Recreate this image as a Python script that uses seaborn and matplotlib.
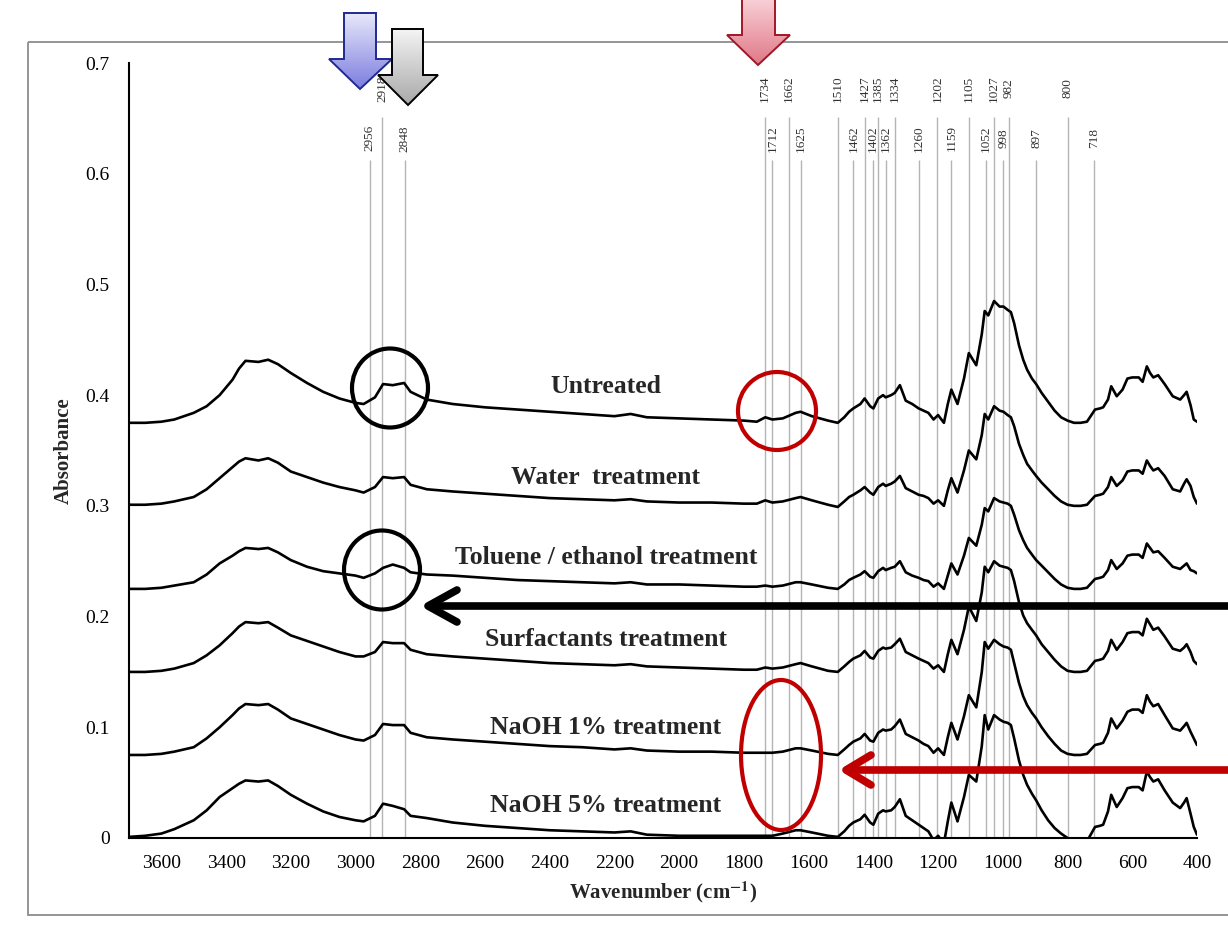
import numpy as np
import pandas as pd
import matplotlib
matplotlib.use('Agg')
import matplotlib.pyplot as plt
from matplotlib.patches import Ellipse, Polygon, Rectangle
from matplotlib.colors import LinearSegmentedColormap
import seaborn as sns

# wavenumber grid (cm-1)
wavenumber = [3700, 3650, 3600, 3560, 3500, 3460, 3420, 3380, 3360, 3340,
              3300, 3270, 3240, 3200, 3150, 3100, 3050, 3000, 2975, 2940,
              2915, 2885, 2850, 2830, 2780, 2700, 2600, 2500, 2400, 2300,
              2200, 2150, 2100, 2000, 1900, 1800, 1760, 1734, 1712, 1680,
              1640, 1625, 1590, 1540, 1510, 1490, 1475, 1462, 1440, 1427,
              1410, 1400, 1385, 1370, 1362, 1345, 1334, 1318, 1300, 1280,
              1260, 1245, 1230, 1214, 1200, 1182, 1170, 1159, 1140, 1120,
              1105, 1082, 1065, 1056, 1045, 1027, 1010, 998, 985, 975,
              965, 950, 937, 925, 910, 897, 880, 860, 840, 820,
              800, 780, 760, 740, 715, 700, 690, 675, 665, 648,
              630, 615, 600, 580, 568, 555, 545, 535, 520, 500,
              475, 452, 440, 432, 420, 410, 400]

untreated = [.375, .375, .376, .378, .384, .390, .400, .414, .424, .431,
             .430, .432, .428, .420, .411, .403, .397, .393, .392, .398,
             .410, .409, .411, .403, .396, .392, .389, .387, .385, .383,
             .381, .383, .380, .379, .378, .377, .376, .380, .378, .379,
             .384, .385, .381, .377, .375, .380, .385, .388, .392, .397,
             .390, .388, .397, .400, .398, .400, .402, .409, .395, .392,
             .388, .386, .384, .378, .382, .375, .392, .405, .392, .415,
             .438, .427, .455, .476, .472, .485, .480, .480, .477, .475,
             .465, .445, .432, .423, .415, .410, .402, .394, .386, .380,
             .377, .375, .375, .376, .387, .388, .389, .396, .408, .399,
             .405, .415, .416, .416, .412, .426, .420, .416, .418, .410,
             .399, .396, .400, .403, .391, .378, .376]

water = [.301, .301, .302, .304, .308, .315, .325, .335, .340, .343,
         .341, .343, .339, .331, .326, .321, .317, .314, .312, .317,
         .326, .325, .326, .319, .315, .313, .311, .309, .307, .306,
         .305, .306, .304, .303, .303, .302, .302, .305, .303, .304,
         .307, .308, .305, .301, .299, .304, .308, .310, .314, .317,
         .312, .310, .317, .320, .318, .320, .322, .327, .316, .313,
         .310, .309, .307, .302, .305, .300, .314, .325, .312, .332,
         .350, .342, .364, .383, .378, .390, .386, .385, .382, .380,
         .372, .356, .346, .338, .332, .327, .321, .315, .309, .304,
         .301, .300, .300, .301, .309, .310, .311, .317, .326, .318,
         .323, .331, .332, .332, .329, .341, .336, .332, .334, .327,
         .315, .313, .320, .324, .318, .308, .302]

toluene = [.225, .225, .226, .228, .231, .238, .248, .255, .259, .262,
           .261, .262, .258, .251, .245, .241, .239, .237, .235, .239,
           .244, .247, .244, .240, .238, .237, .235, .233, .232, .231,
           .230, .231, .229, .229, .228, .227, .227, .228, .227, .228,
           .231, .231, .229, .226, .225, .229, .233, .235, .238, .241,
           .236, .235, .241, .244, .242, .244, .245, .250, .240, .237,
           .235, .233, .232, .227, .230, .225, .237, .248, .238, .255,
           .271, .264, .283, .298, .295, .307, .304, .303, .302, .300,
           .292, .278, .269, .262, .256, .251, .246, .240, .234, .229,
           .226, .225, .225, .226, .234, .235, .236, .242, .251, .243,
           .248, .255, .256, .256, .253, .266, .262, .258, .259, .253,
           .245, .243, .246, .248, .242, .241, .239]

surfactants = [.150, .150, .151, .153, .158, .165, .174, .185, .191, .195,
               .194, .195, .190, .183, .178, .173, .168, .164, .164, .168,
               .177, .176, .176, .170, .166, .164, .162, .160, .158, .157,
               .156, .157, .155, .154, .153, .152, .152, .154, .153, .154,
               .157, .158, .155, .151, .150, .155, .159, .162, .165, .169,
               .163, .162, .169, .172, .171, .172, .175, .180, .168, .165,
               .162, .160, .158, .153, .156, .150, .166, .179, .166, .188,
               .209, .196, .222, .245, .240, .250, .246, .245, .244, .242,
               .232, .213, .201, .194, .188, .183, .175, .168, .161, .155,
               .151, .150, .150, .151, .160, .161, .162, .169, .179, .170,
               .177, .185, .186, .186, .183, .198, .193, .188, .190, .182,
               .171, .169, .172, .175, .168, .160, .157]

naoh1 = [.075, .075, .076, .078, .082, .090, .100, .111, .117, .121,
         .120, .121, .116, .108, .103, .098, .093, .089, .088, .093,
         .103, .102, .102, .095, .091, .089, .087, .085, .083, .082,
         .080, .081, .079, .078, .078, .077, .077, .077, .077, .078,
         .081, .081, .079, .076, .075, .080, .084, .087, .090, .094,
         .088, .087, .095, .098, .097, .098, .101, .107, .094, .091,
         .088, .085, .083, .077, .081, .075, .091, .104, .089, .110,
         .129, .118, .150, .177, .171, .179, .175, .173, .172, .170,
         .158, .140, .128, .120, .113, .108, .100, .092, .085, .079,
         .076, .075, .075, .076, .084, .085, .086, .095, .108, .099,
         .106, .114, .116, .116, .113, .129, .123, .119, .121, .111,
         .099, .097, .101, .104, .096, .090, .084]

naoh5 = [.001, .002, .004, .008, .016, .025, .037, .045, .049, .052,
         .051, .052, .047, .039, .031, .024, .019, .016, .015, .020,
         .031, .029, .026, .020, .018, .014, .011, .009, .007, .006,
         .005, .006, .003, .002, .002, .002, .002, .002, .002, .004,
         .007, .007, .005, .002, .001, .006, .011, .014, .017, .021,
         .014, .012, .022, .025, .024, .025, .028, .035, .020, .016,
         .012, .009, .006, -.002, .002, -.005, .015, .032, .015, .037,
         .057, .051, .083, .111, .098, .111, .107, .105, .104, .102,
         .090, .070, .057, .048, .040, .034, .025, .016, .009, .004,
         .000, -.004, -.005, -.003, .010, .011, .012, .024, .039, .028,
         .036, .045, .046, .046, .043, .060, .055, .051, .053, .043,
         .032, .027, .032, .036, .022, .010, .003]

series_names = ['Untreated', 'Water  treatment', 'Toluene / ethanol treatment',
                'Surfactants treatment', 'NaOH 1% treatment', 'NaOH 5% treatment']
series_values = [untreated, water, toluene, surfactants, naoh1, naoh5]
label_y = [0.408, 0.326, 0.253, 0.179, 0.100, 0.029]
label_x = 2227

# band positions marked with grey lines
peaks_top = [2918, 1734, 1662, 1510, 1427, 1385, 1334, 1202, 1105, 1027, 982, 800]
peaks_low = [2956, 2848, 1712, 1625, 1462, 1402, 1362, 1260, 1159, 1052, 998, 897, 718]

frames = []
for name, vals in zip(series_names, series_values):
    frames.append(pd.DataFrame({'wn': wavenumber, 'A': vals, 'series': name}))
df = pd.concat(frames, ignore_index=True)

sns.set_style('white')
plt.rcParams['font.family'] = ['Liberation Serif', 'DejaVu Serif']
plt.rcParams['mathtext.fontset'] = 'stix'

W, H = 1228, 927
fig = plt.figure(figsize=(W / 100, H / 100), dpi=100)
ax = fig.add_axes([129 / W, 1 - 838 / H, (1197 - 129) / W, (838 - 63) / H])

ax.vlines(peaks_top, 0, 0.651, color='#b4b4b4', lw=1, zorder=1)
ax.vlines(peaks_low, 0, 0.612, color='#b4b4b4', lw=1, zorder=1)
for p in peaks_top:
    ax.text(p, 0.677, str(p), rotation=90, ha='center', va='center',
            fontsize=9.5, color='#333333')
for p in peaks_low:
    ax.text(p, 0.632, str(p), rotation=90, ha='center', va='center',
            fontsize=9.5, color='#333333')

sns.lineplot(data=df, x='wn', y='A', units='series', estimator=None, sort=False,
             color='black', linewidth=1.9, ax=ax, legend=False, zorder=3)

for name, y in zip(series_names, label_y):
    ax.text(label_x, y, name, ha='center', va='center', fontsize=18.5,
            fontweight='bold')

ax.set_xlim(3700, 400)
ax.set_ylim(0, 0.7)
ax.set_xticks(range(3600, 399, -200))
ax.set_yticks([0, 0.1, 0.2, 0.3, 0.4, 0.5, 0.6, 0.7])
ax.set_yticklabels(['0', '0.1', '0.2', '0.3', '0.4', '0.5', '0.6', '0.7'])
sns.despine(ax=ax)
for s in ['left', 'bottom']:
    ax.spines[s].set_linewidth(1.5)
    ax.spines[s].set_color('black')
ax.tick_params(axis='x', direction='out', length=6, width=1.5, labelsize=14,
               pad=6, colors='black')
ax.tick_params(axis='y', direction='in', length=6, width=1.5, labelsize=14,
               pad=14, colors='black')
ax.set_xlabel(r'Wavenumber (cm$^{\mathbf{-1}}$)', fontsize=15, fontweight='bold',
              labelpad=6)
ax.set_ylabel('Absorbance', fontsize=15, fontweight='bold', labelpad=8)
ax.patch.set_alpha(0)

# overlay in pixel coordinates for the annotations
ov = fig.add_axes([0, 0, 1, 1], zorder=5)
ov.axis('off')
ov.patch.set_alpha(0)

ov.add_patch(Rectangle((28, 42), 1250, 873, fill=False, ec='#8c8c8c', lw=1.3))


def block_arrow(x0, x1, ytop, hx0, hx1, yhead, tip, edge, c_top, c_bot):
    pts = [(x0, ytop), (x1, ytop), (x1, yhead), (hx1, yhead), tip,
           (hx0, yhead), (x0, yhead)]
    poly = Polygon(pts, closed=True, fc='none', ec=edge, lw=1.4, zorder=7)
    ov.add_patch(poly)
    cmap = LinearSegmentedColormap.from_list('g', [c_top, c_bot])
    grad = np.linspace(0, 1, 100).reshape(-1, 1)
    im = ov.imshow(grad, cmap=cmap, extent=[hx0, hx1, tip[1], ytop],
                   aspect='auto', zorder=6, interpolation='bilinear')
    im.set_clip_path(poly)


block_arrow(344, 376, 13, 329, 392, 59, (360, 89), '#1f2a8f', '#e8e8fa', '#7c7ce0')
block_arrow(392, 423, 29, 378, 438, 75, (408, 105), '#000000', '#f4f4f4', '#a8a8a8')
block_arrow(742, 775, -5, 727, 790, 35, (758, 65), '#a01828', '#fbd6dc', '#e07888')

ov.add_patch(Ellipse((390, 388), 76, 79, fill=False, ec='black', lw=3))
ov.add_patch(Ellipse((382, 570), 76, 79, fill=False, ec='black', lw=3))
ov.add_patch(Ellipse((777, 411), 78, 78, fill=False, ec='#c00000', lw=3))
ov.add_patch(Ellipse((781, 755), 80, 150, fill=False, ec='#c00000', lw=3))

ov.plot([1240, 430], [606, 606], color='black', lw=5.5, solid_capstyle='butt')
ov.plot([457, 428, 457], [590, 606, 622], color='black', lw=5.5,
        solid_capstyle='round', solid_joinstyle='round')
ov.plot([1240, 848], [770, 770], color='#c00000', lw=5.5, solid_capstyle='butt')
ov.plot([871, 846, 871], [755, 770, 785], color='#c00000', lw=5.5,
        solid_capstyle='round', solid_joinstyle='round')

ov.set_xlim(0, W)
ov.set_ylim(H, 0)

fig.savefig('out.png', dpi=100)
